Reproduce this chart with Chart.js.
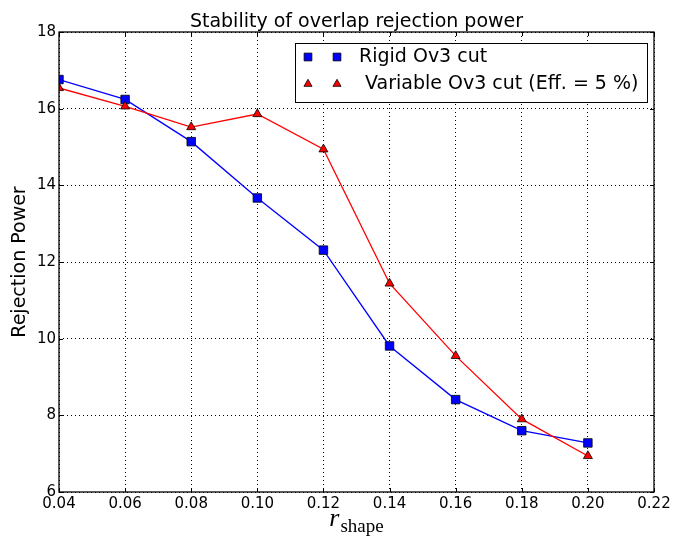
<!DOCTYPE html>
<html>
<head>
<meta charset="utf-8">
<script src="https://cdn.jsdelivr.net/npm/chart.js@4.4.0/dist/chart.umd.min.js"></script>
<style>
  html, body { margin: 0; padding: 0; background: #fff; }
</style>
</head>
<body>
<canvas id="chart" width="675" height="539"></canvas>
<script>
// ---- data ----
const rShape = [0.04, 0.06, 0.08, 0.10, 0.12, 0.14, 0.16, 0.18, 0.20];
const rigidPower = [16.76, 16.24, 15.14, 13.67, 12.31, 9.81, 8.41, 7.60, 7.28];
const variablePower = [16.54, 16.06, 15.52, 15.86, 14.94, 11.44, 9.55, 7.90, 6.94];
const xTicks = [0.04, 0.06, 0.08, 0.10, 0.12, 0.14, 0.16, 0.18, 0.20, 0.22];
const yTicks = [6, 8, 10, 12, 14, 16, 18];

const titleText = "Stability of overlap rejection power";
const yLabel = "Rejection Power";
const legendLabels = ["Rigid Ov3 cut", " Variable Ov3 cut (Eff. = 5 %)"];

const FONT = "'DejaVu Sans', sans-serif";

function toPoints(ys) {
  return rShape.map((x, i) => ({ x: x, y: ys[i] }));
}

// frame, inward ticks, title, axis labels and legend box
const decorations = {
  id: "decorations",
  afterDraw(chart) {
    const ctx = chart.ctx;
    const a = chart.chartArea;
    const xs = chart.scales.x;
    const ys = chart.scales.y;
    ctx.save();

    // ticks pointing inwards on all four sides
    ctx.strokeStyle = "#000";
    ctx.lineWidth = 1;
    ctx.beginPath();
    xTicks.forEach(v => {
      const px = Math.round(xs.getPixelForValue(v)) + 0.5;
      ctx.moveTo(px, a.bottom); ctx.lineTo(px, a.bottom - 4);
      ctx.moveTo(px, a.top); ctx.lineTo(px, a.top + 4);
    });
    yTicks.forEach(v => {
      const py = Math.round(ys.getPixelForValue(v)) + 0.5;
      ctx.moveTo(a.left, py); ctx.lineTo(a.left + 4, py);
      ctx.moveTo(a.right, py); ctx.lineTo(a.right - 4, py);
    });
    ctx.stroke();

    // frame
    ctx.lineWidth = 1.3;
    ctx.strokeRect(a.left, a.top, a.right - a.left, a.bottom - a.top);

    // title
    ctx.fillStyle = "#000";
    ctx.font = "19px " + FONT;
    ctx.textAlign = "center";
    ctx.textBaseline = "alphabetic";
    ctx.fillText(titleText, (a.left + a.right) / 2, 27);

    // y label
    ctx.save();
    ctx.translate(20, (a.top + a.bottom) / 2);
    ctx.rotate(-Math.PI / 2);
    ctx.textBaseline = "middle";
    ctx.fillText(yLabel, 0, 0);
    ctx.restore();

    // x label: r_shape
    const rFont = "italic 26px 'Liberation Serif', serif";
    const subFont = "19px 'Liberation Serif', serif";
    ctx.font = rFont;
    const rW = ctx.measureText("r").width;
    ctx.font = subFont;
    const sW = ctx.measureText("shape").width;
    let lx = (a.left + a.right) / 2 - (rW + sW + 1) / 2;
    ctx.textAlign = "left";
    ctx.font = rFont;
    ctx.fillText("r", lx, 526);
    ctx.font = subFont;
    ctx.fillText("shape", lx + rW + 1, 532);

    // legend
    const box = { left: 295, top: 43, right: 647, bottom: 102 };
    ctx.fillStyle = "#fff";
    ctx.fillRect(box.left, box.top, box.right - box.left, box.bottom - box.top);
    ctx.lineWidth = 1;
    ctx.strokeStyle = "#000";
    ctx.strokeRect(box.left + 0.5, box.top + 0.5, box.right - box.left, box.bottom - box.top);

    const rows = [
      { y: 57, ds: chart.data.datasets[0] },
      { y: 84, ds: chart.data.datasets[1] }
    ];
    rows.forEach((row, i) => {
      [308, 337].forEach(mx => {
        ctx.fillStyle = row.ds.pointBackgroundColor;
        ctx.strokeStyle = "#000";
        ctx.lineWidth = 0.8;
        Chart.helpers.drawPoint(ctx, {
          pointStyle: row.ds.pointStyle,
          radius: row.ds.pointRadius - 0.5,
          rotation: 0,
          borderWidth: 0.8
        }, mx, row.y);
      });
      ctx.fillStyle = "#000";
      ctx.font = "19px " + FONT;
      ctx.textBaseline = "middle";
      ctx.textAlign = "left";
      ctx.fillText(legendLabels[i], 359, row.y);
    });

    ctx.restore();
  }
};

new Chart(document.getElementById("chart"), {
  type: "line",
  data: {
    datasets: [{
      label: legendLabels[0],
      data: toPoints(rigidPower),
      borderColor: "#0000ff",
      borderWidth: 1.3,
      pointStyle: "rect",
      pointRadius: 6,
      pointBackgroundColor: "#0000ff",
      pointBorderColor: "#000",
      pointBorderWidth: 0.8,
      tension: 0,
      order: 1
    }, {
      label: legendLabels[1],
      data: toPoints(variablePower),
      borderColor: "#ff0000",
      borderWidth: 1.3,
      pointStyle: "triangle",
      pointRadius: 5.2,
      pointBackgroundColor: "#ff0000",
      pointBorderColor: "#000",
      pointBorderWidth: 0.8,
      tension: 0,
      order: 0
    }]
  },
  options: {
    responsive: false,
    animation: false,
    devicePixelRatio: 1,
    layout: { padding: { left: 0, top: 32, right: 21, bottom: 0 } },
    plugins: {
      legend: { display: false },
      title: { display: false },
      tooltip: { enabled: false }
    },
    scales: {
      x: {
        type: "linear",
        min: 0.04,
        max: 0.22,
        afterBuildTicks: s => { s.ticks = xTicks.map(v => ({ value: v })); },
        afterFit: s => { s.height = 47; },
        ticks: {
          callback: v => v.toFixed(2),
          color: "#000",
          font: { family: FONT, size: 15 },
          padding: 3,
          maxRotation: 0,
          autoSkip: false
        },
        grid: { color: "#000", lineWidth: 1, drawTicks: false, tickLength: 0 },
        border: { display: false, dash: [1, 3] }
      },
      y: {
        min: 6,
        max: 18,
        afterBuildTicks: s => { s.ticks = yTicks.map(v => ({ value: v })); },
        afterFit: s => { s.width = 59; },
        ticks: {
          color: "#000",
          font: { family: FONT, size: 15 },
          padding: 3
        },
        grid: { color: "#000", lineWidth: 1, drawTicks: false, tickLength: 0 },
        border: { display: false, dash: [1, 3] }
      }
    }
  },
  plugins: [decorations]
});
</script>
</body>
</html>
